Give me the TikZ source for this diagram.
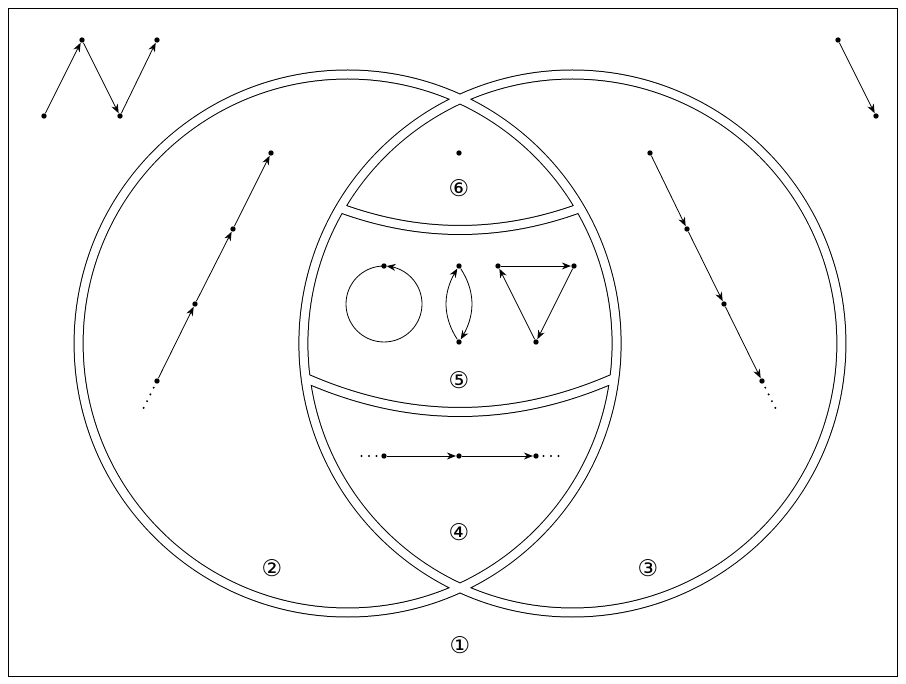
\documentclass[tikz,border=0pt]{standalone}
\usepackage{fontspec}
\newfontfamily\circnum{DejaVu Sans}
\usetikzlibrary{arrows.meta,bending}

\begin{document}
\begin{tikzpicture}[
  x=0.5pt, y=-0.5pt,
  vtx/.style={circle, fill, inner sep=0pt, minimum size=2.7pt},
  lbl/.style={font=\circnum\fontsize{11.5}{12}\selectfont},
  arr/.style={-{Stealth[length=4.5pt, width=3.5pt]}},
  dots/.style={line width=1.1pt, line cap=round, dash pattern=on 0pt off 3.75pt},
  set/.style={double, double distance=4pt, line width=0.5pt}
]
\useasboundingbox (0,0) rectangle (906,684);
\draw (8,8) rectangle (897,676);

\draw[set] (347.6,343.5) circle[radius=134.5pt] (572.4,343.5) circle[radius=134.5pt]
  (340,208) .. controls (420,237.3) and (500,237.3) .. (580,208)
  (305.6,378) .. controls (408.5,423.3) and (511.5,423.3) .. (614.4,378);

\node[vtx] (z1) at (44,116) {};
\node[vtx] (z2) at (82,40) {};
\node[vtx] (z3) at (120,116) {};
\node[vtx] (z4) at (157,40) {};
\node[vtx] (r1) at (838,40) {};
\node[vtx] (r2) at (876,116) {};

\node[vtx] (a0) at (157,381) {};
\node[vtx] (a1) at (195,304) {};
\node[vtx] (a2) at (233,229) {};
\node[vtx] (a3) at (271,153) {};
\coordinate (ae) at (143.7,407.9);

\node[vtx] (b0) at (650,153) {};
\node[vtx] (b1) at (687,229) {};
\node[vtx] (b2) at (724,304) {};
\node[vtx] (b3) at (762,381) {};
\coordinate (be) at (775.3,407.9);

\node[vtx] (s) at (459,153) {};
\node[vtx] (c) at (384,266) {};
\node[vtx] (g1) at (459,266) {};
\node[vtx] (g2) at (459,342) {};
\node[vtx] (t1) at (498,266) {};
\node[vtx] (t2) at (574,266) {};
\node[vtx] (t3) at (536,342) {};

\node[vtx] (h1) at (384,456) {};
\node[vtx] (h2) at (459,456) {};
\node[vtx] (h3) at (536,456) {};
\coordinate (hl) at (354,456);
\coordinate (hr) at (566,456);

\node[lbl] (n1) at (460,645) {①};
\node[lbl] (n2) at (272,568) {②};
\node[lbl] (n3) at (648,568) {③};
\node[lbl] (n4) at (459,532) {④};
\node[lbl] (n5) at (459,380) {⑤};
\node[lbl] (n6) at (459,188) {⑥};

\draw[arr] (z1) -- (z2);
\draw[arr] (z2) -- (z3);
\draw[arr] (z3) -- (z4);
\draw[arr] (r1) -- (r2);

\draw[arr] (a0) -- (a1);
\draw[arr] (a1) -- (a2);
\draw[arr] (a2) -- (a3);
\draw[dots] (a0.center) -- (ae);

\draw[arr] (b0) -- (b1);
\draw[arr] (b1) -- (b2);
\draw[arr] (b2) -- (b3);
\draw[dots] (b3.center) -- (be);

\draw[arr, shorten >=1.3pt] (c.center) arc[start angle=90, end angle=450, radius=19pt];
\draw[arr] (g2) to[bend left=33] (g1);
\draw[arr] (g1) to[bend left=33] (g2);
\draw[arr] (t1) -- (t2);
\draw[arr] (t2) -- (t3);
\draw[arr] (t3) -- (t1);

\draw[arr] (h1) -- (h2);
\draw[arr] (h2) -- (h3);
\draw[dots] (h1.center) -- (hl);
\draw[dots] (h3.center) -- (hr);
\end{tikzpicture}
\end{document}
